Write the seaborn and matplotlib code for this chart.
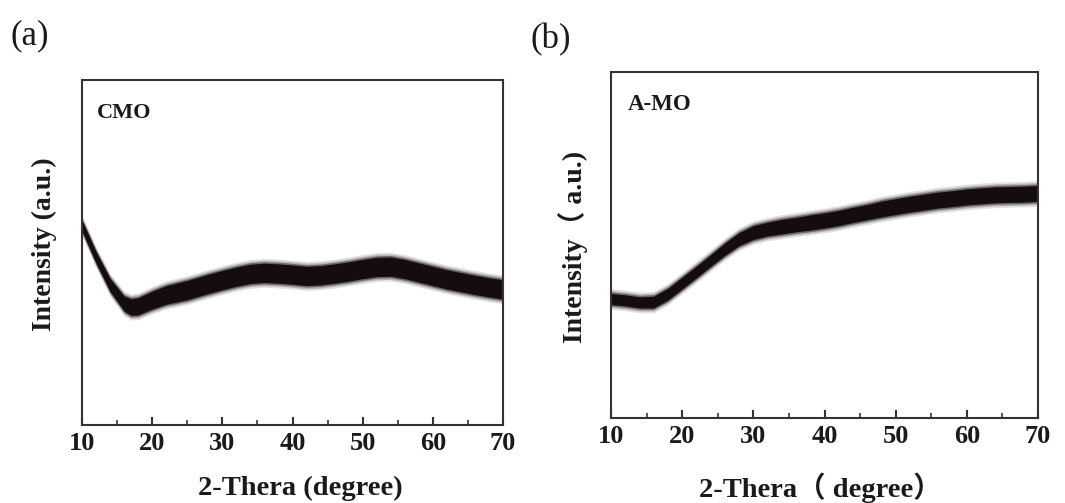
import numpy as np
import pandas as pd
import matplotlib
matplotlib.use("Agg")
import matplotlib.pyplot as plt
import seaborn as sns
from matplotlib.ticker import MultipleLocator

# ---- data: diffraction angle (2-theta, degree) vs. intensity (a.u.) ----
two_theta_cmo = [10, 12, 14, 16, 17, 18, 20, 22, 25, 28, 30, 32, 34, 36, 38, 40,
                 42, 44, 46, 48, 50, 52, 54, 56, 58, 60, 62, 64, 66, 68, 70]
intensity_cmo = [57.8, 48.6, 40.6, 35.2, 34.2, 34.4, 36.2, 37.7, 39.1, 40.9, 42.0,
                 43.0, 43.8, 44.1, 43.9, 43.6, 43.2, 43.4, 43.9, 44.5, 45.2, 45.8,
                 45.9, 45.2, 44.2, 43.2, 42.2, 41.4, 40.6, 39.9, 39.3]
spread_cmo = [1.6, 1.7, 1.9, 2.2, 2.4, 2.5, 2.6, 2.7, 2.8, 2.8, 2.8, 2.8, 2.8, 2.8,
              2.8, 2.8, 2.8, 2.8, 2.8, 2.8, 2.8, 2.8, 2.8, 2.8, 2.8, 2.8, 2.8, 2.8,
              2.8, 2.8, 2.8]

two_theta_amo = [10, 12, 14, 16, 18, 20, 22, 24, 26, 28, 30, 32, 34, 36, 38, 40,
                 42, 44, 46, 48, 50, 52, 54, 56, 58, 60, 62, 64, 66, 68, 70]
intensity_amo = [34.4, 34.0, 33.4, 33.5, 35.8, 39.0, 42.2, 45.5, 48.8, 51.7, 53.6,
                 54.6, 55.3, 55.9, 56.5, 57.1, 57.8, 58.7, 59.5, 60.4, 61.1, 61.8,
                 62.4, 63.0, 63.4, 63.9, 64.2, 64.5, 64.6, 64.7, 64.9]
spread_amo = [1.6, 1.6, 1.6, 1.7, 1.7, 1.7, 1.7, 1.7, 1.8, 1.9, 2.0, 2.0, 2.1, 2.1,
              2.2, 2.2, 2.2, 2.2, 2.2, 2.3, 2.3, 2.3, 2.3, 2.3, 2.3, 2.3, 2.3, 2.3,
              2.3, 2.3, 2.3]

x_ticks = [10, 20, 30, 40, 50, 60, 70]
sample_names = ["CMO", "A-MO"]
panel_tags = ["(a)", "(b)"]

# ---- style ----
sns.set_theme(style="white")
plt.rcParams["font.family"] = ["Liberation Serif", "Noto Sans CJK SC", "DejaVu Sans"]
plt.rcParams["axes.edgecolor"] = "#333333"

INK = "#1a1a1a"
TRACE = "#150d0d"

W, H = 1065, 503
fig = plt.figure(figsize=(W / 100, H / 100), dpi=100)


def frac_box(left, top, right, bottom):
    return [left / W, 1 - bottom / H, (right - left) / W, (bottom - top) / H]


ax_a = fig.add_axes(frac_box(82, 80, 503, 425))
ax_b = fig.add_axes(frac_box(611, 72, 1038, 418))

datasets = [
    (ax_a, two_theta_cmo, intensity_cmo, spread_cmo),
    (ax_b, two_theta_amo, intensity_amo, spread_amo),
]

for ax, tt, inten, spread in datasets:
    df = pd.DataFrame({"two_theta": tt, "intensity": inten, "spread": spread})
    lo = df["intensity"] - df["spread"]
    hi = df["intensity"] + df["spread"]
    # soft fringe of the noisy trace, fading outward
    for extra, alpha in [(1.4, 0.12), (0.9, 0.22), (0.45, 0.45)]:
        ax.fill_between(df["two_theta"], lo - extra, hi + extra, color=TRACE,
                        alpha=alpha, linewidth=0)
    # dense core of the trace
    ax.fill_between(df["two_theta"], lo, hi, color=TRACE, linewidth=0)
    sns.lineplot(data=df, x="two_theta", y="intensity", ax=ax, color=TRACE,
                 linewidth=1.2, estimator=None)

    ax.set_xlim(10, 70)
    ax.set_ylim(0, 100)
    ax.set_xlabel("")
    ax.set_ylabel("")
    ax.set_yticks([])
    ax.set_xticks(x_ticks)
    ax.xaxis.set_minor_locator(MultipleLocator(5))
    ax.tick_params(axis="x", which="major", direction="in", length=6, width=1.5,
                   color="#333333", bottom=True, top=False, pad=5)
    ax.tick_params(axis="x", which="minor", direction="in", length=3.5, width=1.2,
                   color="#333333", bottom=True, top=False)
    for lab in ax.get_xticklabels():
        lab.set_fontweight("bold")
        lab.set_fontsize(19)
        lab.set_color(INK)
    for sp in ax.spines.values():
        sp.set_linewidth(1.5)
        sp.set_color("#333333")

# sample names inside the frames
ax_a.text(0.035, 0.905, sample_names[0], transform=ax_a.transAxes, fontsize=16,
          fontweight="bold", ha="left", va="center", color=INK)
ax_b.text(0.04, 0.905, sample_names[1], transform=ax_b.transAxes, fontsize=16.5,
          fontweight="bold", ha="left", va="center", color=INK)

# panel tags
fig.text(11 / W, 1 - 36 / H, panel_tags[0], fontsize=25, ha="left", va="center",
         color=INK)
fig.text(531 / W, 1 - 40 / H, panel_tags[1], fontsize=25, ha="left", va="center",
         color=INK)

# axis titles
fig.text(300 / W, 1 - 488 / H, "2-Thera (degree)", fontsize=20.5, fontweight="bold",
         ha="center", va="center", color=INK)
fig.text(820 / W, 1 - 488 / H, "2-Thera（ degree）", fontsize=20.5, fontweight="bold",
         ha="center", va="center", color=INK)
fig.text(44 / W, 1 - 244 / H, "Intensity (a.u.)", fontsize=20, fontweight="bold",
         rotation=90, ha="center", va="center", color=INK)
fig.text(573 / W, 1 - 247 / H, "Intensity（ a.u.)", fontsize=20, fontweight="bold",
         rotation=90, ha="center", va="center", color=INK)

fig.savefig("out.png", dpi=100, facecolor="white")
